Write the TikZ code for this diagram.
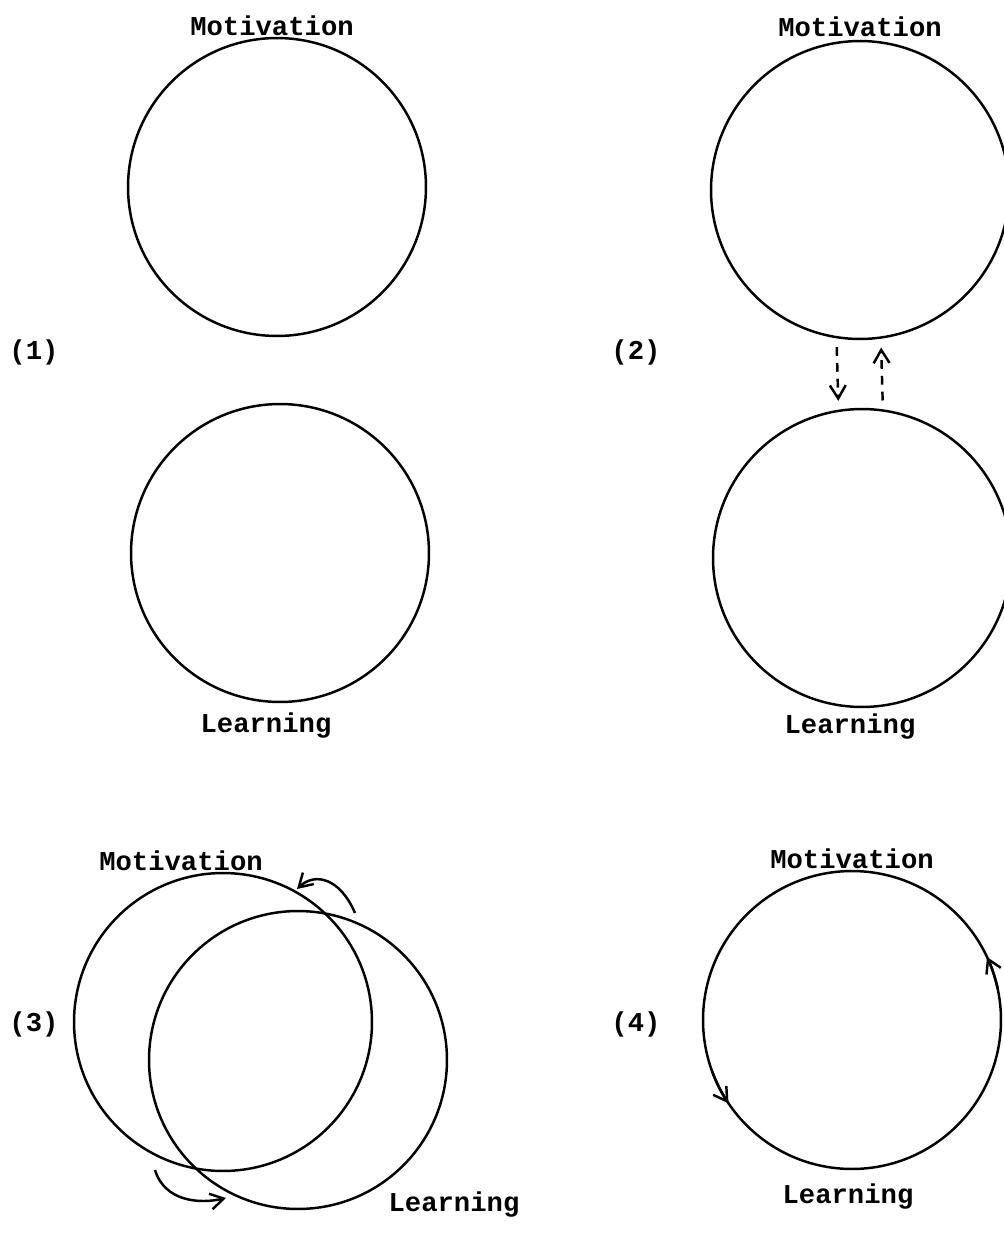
\documentclass[tikz,border=0pt]{standalone}
\usepackage{fontspec}
\setmonofont{Liberation Mono}
\usetikzlibrary{arrows.meta}

\begin{document}
\begin{tikzpicture}[x=0.02cm, y=-0.02cm,
    ring/.style={draw, circle, line width=1.4pt, minimum size=5.96cm, inner sep=0pt},
    lbl/.style={font=\ttfamily\bfseries\fontsize{15.5}{18}\selectfont, inner sep=0pt, anchor=base},
    tip/.style={-{Straight Barb[length=7.5pt, width=9pt, line width=1.4pt]}, line width=1.4pt},
    dasharr/.style={tip, dash pattern=on 5pt off 4pt, shorten <=5pt, shorten >=5pt}
]
\useasboundingbox (0,0) rectangle (1004,1238);

% (1)
\node[lbl] (num1) at (34,359) {(1)};
\node[ring] (mot1) at (277,187) {};
\node[ring] (lrn1) at (280,553) {};
\node[lbl] (tmot1) at (272,35) {Motivation};
\node[lbl] (tlrn1) at (266,732) {Learning};

% (2)
\node[lbl] (num2) at (636,359) {(2)};
\node[ring] (mot2) at (860,190) {};
\node[ring] (lrn2) at (862,558) {};
\node[lbl] (tmot2) at (860,36) {Motivation};
\node[lbl] (tlrn2) at (850,733) {Learning};
\draw[dasharr] (mot2.261) -- (lrn2.99);
\draw[dasharr] (lrn2.82) -- (mot2.278);

% (3)
\node[lbl] (num3) at (34,1031) {(3)};
\node[ring] (mot3) at (223,1022) {};
\node[ring] (lrn3) at (298,1060) {};
\node[lbl] (tmot3) at (181,870) {Motivation};
\node[lbl] (tlrn3) at (454,1211) {Learning};
\coordinate (a3s) at (355,913);
\coordinate (a3e) at (297,889);
\coordinate (b3s) at (155,1170);
\coordinate (b3e) at (226,1198);
\draw[tip] (a3s) .. controls (340,878) and (315,872) .. (a3e);
\draw[tip] (b3s) .. controls (165,1202) and (200,1204) .. (b3e);

% (4)
\node[lbl] (num4) at (636,1031) {(4)};
\node[ring] (ring4) at (852,1020) {};
\node[lbl] (tmot4) at (852,868) {Motivation};
\node[lbl] (tlrn4) at (848,1203) {Learning};
\draw[tip] ([shift={(-12:149)}]ring4.center) arc[start angle=-12, end angle=-25, radius=149];
\draw[tip] ([shift={(-200:149)}]ring4.center) arc[start angle=-200, end angle=-214, radius=149];
\end{tikzpicture}
\end{document}
